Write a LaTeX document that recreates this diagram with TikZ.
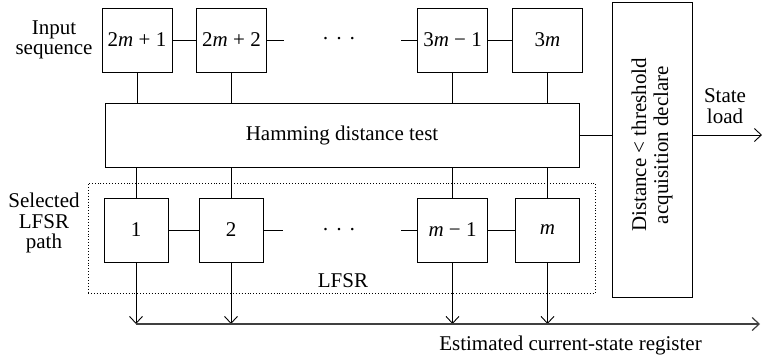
\documentclass[tikz,border=0pt]{standalone}
\usepackage{fontspec}
\setmainfont{Liberation Serif}
\usetikzlibrary{arrows.meta, positioning, calc}

\begin{document}
\begin{tikzpicture}[x=1pt, y=-1pt, line width=0.9pt,
            font=\fontsize{21}{20.5}\selectfont,
            >={Straight Barb[length=7pt, width=13pt]},
            inbox/.style={rectangle, draw, minimum width=70, minimum height=64, inner sep=2pt},
            regbox/.style={rectangle, draw, minimum width=64, minimum height=64, inner sep=2pt},
            plain/.style={align=center, inner sep=0pt}
        ]
            \useasboundingbox (0,0) rectangle (762,360);

            % input sequence
            \node[inbox] (in1) at (137,40) {2\textit{m} + 1};
            \node[inbox] (in2) at (231.5,40) {2\textit{m} + 2};
            \node[inbox] (in3) at (452.5,40) {3\textit{m} − 1};
            \node[inbox] (in4) at (547.5,40) {3\textit{m}};
            \node[plain] (dotsin) at (339,41) {·\hspace{0.3em}·\hspace{0.3em}·};
            \node[plain] (inlbl) at (54,40) {Input\\sequence};

            \node[rectangle, draw, minimum width=474, minimum height=64] (ham) at (342,135) {Hamming distance test};

            % LFSR
            \node[rectangle, draw, dotted, minimum width=507, minimum height=110] (lfsr) at (341.5,238) {};
            \node[regbox] (r1) at (136,230) {1};
            \node[regbox] (r2) at (231,230) {2};
            \node[regbox, minimum width=70] (r3) at (452.5,230) {\textit{m} − 1};
            \node[regbox] (r4) at (547.5,230) {\textit{m}};
            \node[plain] (dotsr) at (339,232) {·\hspace{0.3em}·\hspace{0.3em}·};
            \node[plain] (lfsrlbl) at (343,281) {LFSR};
            \node[plain] (sellbl) at (44,223) {Selected\\LFSR\\path};

            % decision
            \node[rectangle, draw, minimum width=80, minimum height=295] (dec) at (652,149.5) {};
            \node[plain, rotate=90, font=\fontsize{21}{22}\selectfont] (declbl) at (652,145) {Distance < threshold\\acquisition declare};
            \node[plain] (loadlbl) at (725,106) {State\\load};
            \coordinate (out) at (762,135);

            % bus
            \coordinate (busl) at (136,324);
            \coordinate (busr) at (760,324);
            \node[plain, anchor=base] (buslbl) at (570.5,350) {Estimated current-state register};

            \draw (in1) -- (in2);
            \draw (in2.east) -- ++(17,0);
            \draw (in3.west) -- ++(-16,0);
            \draw (in3) -- (in4);
            \draw (r1) -- (r2);
            \draw (r2.east) -- ++(20,0);
            \draw (r3.west) -- ++(-16,0);
            \draw (r3) -- (r4);

            \foreach \x in {in1, in2, in3, in4}
                \draw (\x.south) -- (\x.south |- ham.north);
            \foreach \x in {r1, r2, r3, r4}
                \draw (\x.north |- ham.south) -- (\x.north);
            \foreach \x in {r1, r2, r3, r4}
                \draw[->] (\x.south) -- (\x.south |- busl);

            \draw (ham.east) -- (ham.east -| dec.west);
            \draw[->] (ham.east -| dec.east) -- (out);
            \draw[->, line width=1.2pt, draw=black!75] (busl) -- (busr);
        \end{tikzpicture}
\end{document}
